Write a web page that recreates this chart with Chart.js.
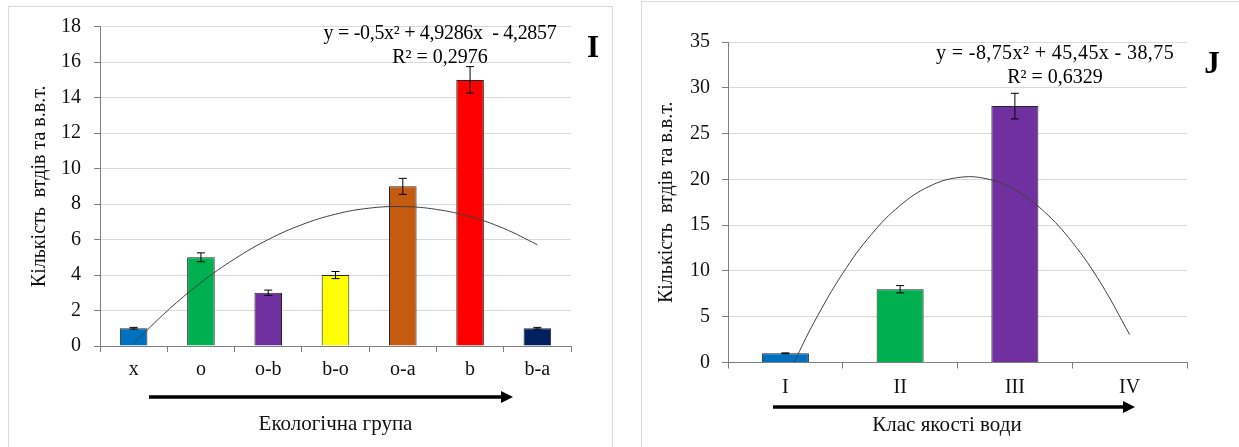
<!DOCTYPE html>
<html>
<head>
<meta charset="utf-8">
<script src="https://cdn.jsdelivr.net/npm/chart.js@4.4.1/dist/chart.umd.min.js"></script>
<style>
  html, body { margin: 0; padding: 0; background: #ffffff; width: 1239px; height: 447px; overflow: hidden; position: relative; }
  .frame { position: absolute; border: 1px solid #d9d9d9; box-sizing: border-box; }
  .cv { position: absolute; top: 0; }
  .txt { position: absolute; font-family: 'Liberation Serif', 'Times New Roman', serif; color: #000; white-space: pre; transform: translateX(-50%); text-align: center; }
  .eq { font-size: 20px; line-height: 24px; }
  .letter { font-size: 31px; font-weight: bold; line-height: 32px; }
</style>
</head>
<body>
<div class="frame" style="left:8px; top:6px; width:605px; height:460px;"></div>
<div class="frame" style="left:641px; top:1px; width:610px; height:460px;"></div>

<div class="cv" style="left:0; width:630px; height:447px;"><canvas id="chartI" width="630" height="447"></canvas></div>
<div class="cv" style="left:630px; width:609px; height:447px;"><canvas id="chartJ" width="609" height="447"></canvas></div>

<div class="txt eq" style="left:440px; top:20px;"><span style="letter-spacing:-0.3px;">y = -0,5x² + 4,9286x  - 4,2857</span>
R² = 0,2976</div>
<div class="txt letter" style="left:593px; top:31px;">I</div>
<div class="txt eq" style="left:1055px; top:40px;"><span style="letter-spacing:0.4px;">y = -8,75x² + 45,45x - 38,75</span>
R² = 0,6329</div>
<div class="txt letter" style="left:1212px; top:47px;">J</div>

<script>
// ---------- Data: panel I ----------
const ecoGroups = ['x', 'o', 'o-b', 'b-o', 'o-a', 'b', 'b-a'];
const ecoCounts = [1, 5, 3, 4, 9, 15, 1];
const ecoErrors = [0.05, 0.25, 0.15, 0.2, 0.45, 0.75, 0.05];
const ecoColors = ['#0070C0', '#00B050', '#7030A0', '#FFFF00', '#C55A11', '#FF0000', '#002060'];
const ecoTrendX = [1, 1.5, 2, 2.5, 3, 3.5, 4, 4.5, 5, 5.5, 6, 6.5, 7];
const ecoTrendY = [0.14, 1.98, 3.57, 4.91, 6.0, 6.84, 7.43, 7.77, 7.86, 7.70, 7.29, 6.63, 5.71];
const ecoTicks = [0, 2, 4, 6, 8, 10, 12, 14, 16, 18];

// ---------- Data: panel J ----------
const qualityClasses = ['I', 'II', 'III', 'IV'];
const qualityCounts = [1, 8, 28, null];
const qualityErrors = [0.05, 0.4, 1.4, null];
const qualityColors = ['#0070C0', '#00B050', '#7030A0', '#000000'];
const qualityTrendX = [1.075, 1.25, 1.5, 1.75, 2, 2.25, 2.5, 2.75, 3, 3.25, 3.5, 3.75, 4];
const qualityTrendY = [0, 4.39, 9.74, 13.99, 17.15, 19.21, 20.19, 20.07, 18.85, 16.54, 13.14, 8.64, 3.05];
const qualityTicks = [0, 5, 10, 15, 20, 25, 30, 35];

const yTitle = 'Кількість  втдів та в.в.т.';
const SERIF = "'Liberation Serif', 'Times New Roman', serif";

const extrasPlugin = {
  id: 'extras',
  afterDatasetsDraw(chart, args, opts) {
    const ctx = chart.ctx;
    const meta = chart.getDatasetMeta(0);
    const y = chart.scales.y;
    ctx.save();
    ctx.strokeStyle = '#000';
    ctx.lineWidth = 1;
    opts.errors.forEach((e, i) => {
      const v = chart.data.datasets[0].data[i];
      if (v == null || e == null) return;
      const x = meta.data[i].x;
      const yt = y.getPixelForValue(v + e);
      const yb = y.getPixelForValue(v - e);
      ctx.beginPath();
      ctx.moveTo(x, yt); ctx.lineTo(x, yb);
      ctx.moveTo(x - 4, yt); ctx.lineTo(x + 4, yt);
      ctx.moveTo(x - 4, yb); ctx.lineTo(x + 4, yb);
      ctx.stroke();
    });
    // axis arrow
    const a = opts.arrow;
    ctx.fillStyle = '#000';
    ctx.fillRect(a.x1, a.y - 1.75, a.x2 - a.x1 - 10, 3.5);
    ctx.beginPath();
    ctx.moveTo(a.x2 - 12, a.y - 6);
    ctx.lineTo(a.x2, a.y);
    ctx.lineTo(a.x2 - 12, a.y + 6);
    ctx.closePath();
    ctx.fill();
    ctx.restore();
  }
};

function makeChart(id, cfg) {
  return new Chart(document.getElementById(id), {
    type: 'bar',
    data: {
      labels: cfg.labels,
      datasets: [
        {
          type: 'bar',
          data: cfg.values,
          backgroundColor: cfg.colors,
          borderColor: '#262626',
          borderWidth: 1,
          barPercentage: 0.41,
          categoryPercentage: 1,
          grouped: false,
          order: 1,
          xAxisID: 'x',
          yAxisID: 'y'
        },
        {
          type: 'line',
          data: cfg.trendX.map((x, i) => ({ x: x, y: cfg.trendY[i] })),
          borderColor: '#404040',
          borderWidth: 1,
          pointRadius: 0,
          tension: 0.4,
          fill: false,
          order: 0,
          xAxisID: 'x2',
          yAxisID: 'y'
        }
      ]
    },
    options: {
      responsive: false,
      animation: false,
      events: [],
      layout: { padding: cfg.padding },
      plugins: {
        legend: { display: false },
        tooltip: { enabled: false },
        extras: { errors: cfg.errors, arrow: cfg.arrow }
      },
      scales: {
        x: {
          type: 'category',
          position: 'bottom',
          offset: true,
          afterFit: (s) => { s.height = cfg.xHeight; },
          grid: { offset: true, drawOnChartArea: false, drawTicks: true, tickLength: 6, tickColor: '#7f7f7f' },
          border: { color: '#7f7f7f', width: 1 },
          ticks: { color: '#111', font: { family: SERIF, size: 20 }, padding: cfg.xTickPad, maxRotation: 0, autoSkip: false },
          title: { display: true, text: cfg.xTitle, color: '#111', font: { family: SERIF, size: 21 }, padding: { top: 0, bottom: cfg.xTitlePad } }
        },
        x2: {
          type: 'linear',
          axis: 'x',
          position: 'bottom',
          display: false,
          offset: false,
          grid: { offset: false },
          min: 0.5,
          max: cfg.labels.length + 0.5
        },
        y: {
          type: 'linear',
          min: 0,
          max: cfg.yTicks[cfg.yTicks.length - 1],
          afterFit: (s) => { s.width = cfg.yWidth; },
          afterBuildTicks: (s) => { s.ticks = cfg.yTicks.map(v => ({ value: v })); },
          grid: { color: '#d9d9d9', lineWidth: 1, drawTicks: true, tickLength: 6, tickColor: '#7f7f7f' },
          border: { color: '#7f7f7f', width: 1 },
          ticks: { color: '#111', font: { family: SERIF, size: 20 }, padding: cfg.yTickPad },
          title: { display: true, text: yTitle, color: '#111', font: { family: SERIF, size: 20 }, padding: { top: cfg.yTitlePad, bottom: 0 } }
        }
      }
    },
    plugins: [extrasPlugin]
  });
}

makeChart('chartI', {
  labels: ecoGroups, values: ecoCounts, errors: ecoErrors, colors: ecoColors,
  trendX: ecoTrendX, trendY: ecoTrendY, yTicks: ecoTicks,
  xTitle: 'Екологічна група',
  padding: { left: 20, right: 59, top: 26.7, bottom: 0 },
  yWidth: 80, xHeight: 101, xTickPad: 6, xTitlePad: 10.4, yTickPad: 13, yTitlePad: 8,
  arrow: { x1: 149, x2: 513, y: 397 }
});

makeChart('chartJ', {
  labels: qualityClasses, values: qualityCounts, errors: qualityErrors, colors: qualityColors,
  trendX: qualityTrendX, trendY: qualityTrendY, yTicks: qualityTicks,
  xTitle: 'Клас якості води    ',
  padding: { left: 18, right: 52, top: 42, bottom: 0 },
  yWidth: 80, xHeight: 84.5, xTickPad: 7.5, xTitlePad: 9.4, yTickPad: 12, yTitlePad: 7,
  arrow: { x1: 143, x2: 505, y: 407 }
});
</script>
</body>
</html>
